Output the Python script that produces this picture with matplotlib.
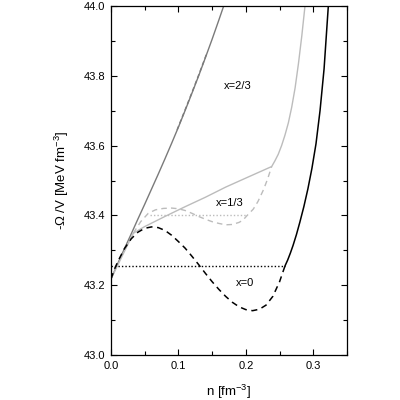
import numpy as np
import matplotlib
matplotlib.use("Agg")
import matplotlib.pyplot as plt
from matplotlib.ticker import MultipleLocator

plt.rcParams['font.family'] = ['Liberation Sans', 'DejaVu Sans']
plt.rcParams['mathtext.fontset'] = 'custom'
plt.rcParams['mathtext.rm'] = 'Liberation Sans'

# x = 0 (black)
n0_dash = [0, 0.006, 0.012, 0.02, 0.03, 0.04, 0.05, 0.06, 0.07, 0.08, 0.09, 0.10,
           0.11, 0.12, 0.13, 0.14, 0.15, 0.16, 0.17, 0.18, 0.19, 0.20, 0.21, 0.22,
           0.23, 0.24, 0.25, 0.258]
w0_dash = [43.218, 43.25, 43.275, 43.305, 43.333, 43.352, 43.363, 43.367, 43.365,
           43.357, 43.343, 43.325, 43.306, 43.283, 43.259, 43.234, 43.210, 43.188,
           43.168, 43.151, 43.138, 43.130, 43.127, 43.131, 43.143, 43.168, 43.210,
           43.255]
n0_solid = [0.258, 0.262, 0.266, 0.270, 0.275, 0.280, 0.286, 0.292, 0.298, 0.304,
            0.310, 0.316, 0.3223]
w0_solid = [43.255, 43.272, 43.292, 43.314, 43.345, 43.38, 43.425, 43.476, 43.535,
            43.605, 43.70, 43.82, 44.0]
n0_dot = [0, 0.258]
w0_dot = [43.255, 43.255]

# x = 1/3 (light grey)
n1_start = [0, 0.0331]
w1_start = [43.218, 43.349]
n1_dash = [0.0331, 0.044, 0.0553, 0.066, 0.0776, 0.09, 0.10, 0.11, 0.12, 0.13, 0.14,
           0.15, 0.16, 0.17, 0.18, 0.19, 0.196, 0.201, 0.211, 0.218, 0.226, 0.232,
           0.2383]
w1_dash = [43.349, 43.382, 43.406, 43.416, 43.420, 43.421, 43.419, 43.414, 43.406,
           43.397, 43.389, 43.382, 43.377, 43.373, 43.374, 43.380, 43.387, 43.398,
           43.418, 43.44, 43.473, 43.503, 43.540]
n1_solid = [0.0331, 0.05, 0.08, 0.11, 0.14, 0.17, 0.20, 0.2383, 0.243, 0.248, 0.253,
            0.258, 0.263, 0.268, 0.273, 0.278, 0.283, 0.2877]
w1_solid = [43.349, 43.368, 43.397, 43.425, 43.452, 43.481, 43.507, 43.540, 43.556,
            43.575, 43.60, 43.63, 43.665, 43.71, 43.765, 43.835, 43.915, 44.0]
n1_dot = [0.058, 0.2016]
w1_dot = [43.401, 43.401]

# x = 2/3 (dark grey)
n2_solid = [0, 0.01, 0.02, 0.03, 0.04, 0.05, 0.06, 0.07, 0.08, 0.09, 0.10, 0.11, 0.12,
            0.13, 0.14, 0.15, 0.16, 0.168]
w2_solid = [43.218, 43.262, 43.305, 43.347, 43.39, 43.432, 43.475, 43.518, 43.562,
            43.607, 43.653, 43.701, 43.75, 43.80, 43.852, 43.905, 43.96, 44.005]
n2_dash = [0.098, 0.11, 0.12, 0.13, 0.142]
w2_dash = [43.645, 43.703, 43.752, 43.802, 43.864]

c_light = '#bcbcbc'
c_dark = '#7a7a7a'

fig = plt.figure(figsize=(4, 4), dpi=100)
ax = fig.add_axes([0.2775, 0.1125, 0.59, 0.8725])

ax.plot(n2_solid, w2_solid, color=c_dark, lw=1.0)
ax.plot(n2_dash, w2_dash, color=c_dark, lw=1.0, dashes=(3, 2))

ax.plot(n1_start, w1_start, color=c_light, lw=1.0)
ax.plot(n1_solid, w1_solid, color=c_light, lw=1.0)
ax.plot(n1_dash, w1_dash, color=c_light, lw=1.0, dashes=(4, 3))
ax.plot(n1_dot, w1_dot, color=c_light, lw=1.0, dashes=(1, 1.5))

ax.plot(n0_dash, w0_dash, color='black', lw=1.1, dashes=(4, 3))
ax.plot(n0_solid, w0_solid, color='black', lw=1.1)
ax.plot(n0_dot, w0_dot, color='black', lw=1.0, dashes=(1, 1.5))

ax.text(0.188, 43.77, 'x=2/3', fontsize=8, ha='center', va='center')
ax.text(0.176, 43.435, 'x=1/3', fontsize=8, ha='center', va='center')
ax.text(0.198, 43.206, 'x=0', fontsize=8, ha='center', va='center')

ax.set_xlim(0, 0.35)
ax.set_ylim(43.0, 44.0)
ax.xaxis.set_major_locator(MultipleLocator(0.1))
ax.xaxis.set_minor_locator(MultipleLocator(0.05))
ax.yaxis.set_major_locator(MultipleLocator(0.2))
ax.yaxis.set_minor_locator(MultipleLocator(0.1))
ax.xaxis.set_major_formatter(plt.FormatStrFormatter('%.1f'))
ax.yaxis.set_major_formatter(plt.FormatStrFormatter('%.1f'))
ax.tick_params(which='both', direction='in', top=True, right=True, labelsize=8, width=0.8)
ax.tick_params(which='major', length=4, pad=4)
ax.tick_params(which='minor', length=3)
for s in ax.spines.values():
    s.set_linewidth(0.9)

ax.set_xlabel('n [fm$^{-3}$]', fontsize=9.5, labelpad=9)
ax.set_ylabel('-\u03a9 /V [MeV fm$^{-3}$]', fontsize=9.5, labelpad=9)

fig.savefig('out.png', dpi=100)
